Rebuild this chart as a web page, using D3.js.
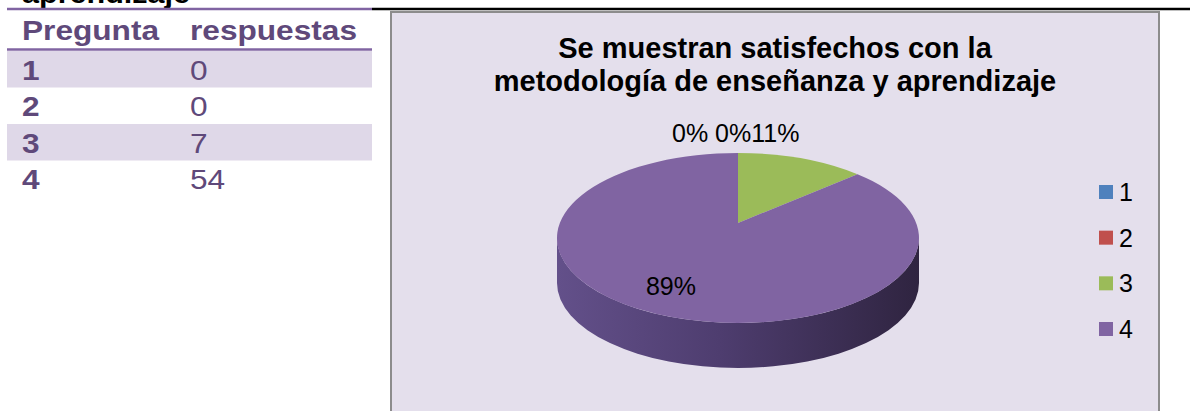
<!DOCTYPE html>
<meta charset="utf-8">
<style>
body { margin: 0; background: #fff; }
text { font-family: "Liberation Sans", Arial, sans-serif; }
</style>
<svg width="1190" height="411"></svg>
<script src="https://cdn.jsdelivr.net/npm/d3@7"></script>
<script>

// data
var categories = ["1", "2", "3", "4"];
var respuestas = [0, 0, 7, 54];
var colors = ["#4F81BD", "#C0504D", "#9BBB59", "#8064A2"];
var headers = ["Pregunta", "respuestas"];
var titleLines = ["Se muestran satisfechos con la", "metodología de enseñanza y aprendizaje"];
var cutHeading = "aprendizaje";

var svg = d3.select("svg");

// ---- table on the left ----
var sx = 1.13; // table text is a bit wide
var rowY = d3.scaleBand().domain(categories).range([51, 197]);

svg.append("text")
    .attr("x", 22).attr("y", 3)
    .attr("font-size", 28).attr("font-weight", "bold")
    .attr("textLength", 168).attr("lengthAdjust", "spacingAndGlyphs")
    .text(cutHeading);

svg.append("line").attr("x1", 7).attr("x2", 372).attr("y1", 9).attr("y2", 9)
    .attr("stroke", "#8064A2").attr("stroke-width", 2.5);
svg.append("line").attr("x1", 372).attr("x2", 1190).attr("y1", 9).attr("y2", 9)
    .attr("stroke", "#000").attr("stroke-width", 2.5);

svg.selectAll("rect.band")
    .data(categories.filter(function(d, i) { return i % 2 == 0; }))
  .enter().append("rect")
    .attr("class", "band")
    .attr("x", 7).attr("width", 365)
    .attr("y", function(d) { return rowY(d); })
    .attr("height", rowY.bandwidth())
    .attr("fill", "#DFD8E8");

svg.append("line").attr("x1", 7).attr("x2", 372).attr("y1", 49.5).attr("y2", 49.5)
    .attr("stroke", "#8064A2").attr("stroke-width", 2.5);

var tbl = svg.append("g").attr("transform", "scale(" + sx + ",1)")
    .attr("fill", "#5F497A").attr("font-size", 28);

tbl.selectAll("text.hdr").data(headers).enter().append("text")
    .attr("class", "hdr")
    .attr("x", function(d, i) { return (i == 0 ? 22 : 190) / sx; })
    .attr("y", 40)
    .attr("font-weight", "bold")
    .text(function(d) { return d; });

tbl.selectAll("text.cat").data(categories).enter().append("text")
    .attr("class", "cat")
    .attr("x", 22 / sx)
    .attr("y", function(d) { return rowY(d) + 29; })
    .attr("font-weight", "bold")
    .text(function(d) { return d; });

tbl.selectAll("text.val").data(respuestas).enter().append("text")
    .attr("class", "val")
    .attr("x", 190 / sx)
    .attr("y", function(d, i) { return rowY(categories[i]) + 29; })
    .text(function(d) { return d; });

// ---- chart area ----
svg.append("rect")
    .attr("x", 391).attr("y", 12).attr("width", 768).attr("height", 420)
    .attr("fill", "#E4DFEC").attr("stroke", "#8C8C8C").attr("stroke-width", 2);

svg.selectAll("text.title").data(titleLines).enter().append("text")
    .attr("class", "title")
    .attr("x", 775)
    .attr("y", function(d, i) { return 58 + i * 33; })
    .attr("text-anchor", "middle")
    .attr("font-size", 29).attr("font-weight", "bold")
    .text(function(d) { return d; });

// 3D pie
var cx = 738, cy = 238, rx = 181, ry = 85, depth = 45, apexUp = 15;
var total = d3.sum(respuestas);
var fmt = d3.format(".0%");

var arcs = d3.pie().sort(null).startAngle(0).endAngle(2 * Math.PI)(respuestas);

function proj(a, dy) {
  return [cx + rx * Math.sin(a), cy - ry * Math.cos(a) + (dy || 0)];
}

var defs = svg.append("defs");
var grad = defs.append("linearGradient").attr("id", "side")
    .attr("gradientUnits", "userSpaceOnUse")
    .attr("x1", cx - rx).attr("x2", cx + rx).attr("y1", 0).attr("y2", 0);
grad.append("stop").attr("offset", 0).attr("stop-color", "#63508A");
grad.append("stop").attr("offset", 0.45).attr("stop-color", "#4E3D6F");
grad.append("stop").attr("offset", 1).attr("stop-color", "#2F2440");

// side walls (front half only)
svg.append("g").selectAll("path")
    .data(arcs.filter(function(d) {
      return d.endAngle > d.startAngle &&
        Math.min(d.endAngle, 1.5 * Math.PI) > Math.max(d.startAngle, 0.5 * Math.PI);
    }))
  .enter().append("path")
    .attr("fill", function(d) { return d.index == 3 ? "url(#side)" : d3.color(colors[d.index]).darker(1); })
    .attr("d", function(d) {
      var s = Math.max(d.startAngle, 0.5 * Math.PI), e = Math.min(d.endAngle, 1.5 * Math.PI);
      var p0 = proj(s), p1 = proj(e), q1 = proj(e, depth), q0 = proj(s, depth);
      var big = (e - s) > Math.PI ? 1 : 0;
      return "M" + p0 + "A" + rx + "," + ry + " 0 " + big + " 1 " + p1 +
             "L" + q1 + "A" + rx + "," + ry + " 0 " + big + " 0 " + q0 + "Z";
    });

// top face
svg.append("g").selectAll("path")
    .data(arcs.filter(function(d) { return d.endAngle > d.startAngle; }))
  .enter().append("path")
    .attr("fill", function(d) { return colors[d.index]; })
    .attr("d", function(d) {
      var p0 = proj(d.startAngle), p1 = proj(d.endAngle);
      var big = (d.endAngle - d.startAngle) > Math.PI ? 1 : 0;
      return "M" + cx + "," + (cy - apexUp) + "L" + p0 +
             "A" + rx + "," + ry + " 0 " + big + " 1 " + p1 + "Z";
    });

// labels: small slices sit in a row above the pie, the big one inside
var small = arcs.filter(function(d) { return d.value / total < 0.3; });
var big = arcs.filter(function(d) { return d.value / total >= 0.3; });

var row = svg.append("text").attr("x", 672).attr("y", 142).attr("font-size", 25);
row.selectAll("tspan").data(small).enter().append("tspan")
    .text(function(d, i) { return fmt(d.value / total) + (i == 0 ? " " : ""); });

svg.selectAll("text.biglbl").data(big).enter().append("text")
    .attr("class", "biglbl")
    .attr("text-anchor", "middle").attr("font-size", 25)
    .attr("x", function(d) { var m = (d.startAngle + d.endAngle) / 2; return cx + rx * Math.sin(m) * 1.05; })
    .attr("y", function(d) { var m = (d.startAngle + d.endAngle) / 2; return cy - ry * Math.cos(m) * 0.6 + 9; })
    .text(function(d) { return fmt(d.value / total); });

// legend
var legY = d3.scalePoint().domain(categories).range([185, 322]);
var leg = svg.append("g").selectAll("g").data(categories).enter().append("g")
    .attr("transform", function(d) { return "translate(1099," + legY(d) + ")"; });
leg.append("rect").attr("width", 14).attr("height", 14)
    .attr("fill", function(d, i) { return colors[i]; });
leg.append("text").attr("x", 20).attr("y", 16).attr("font-size", 25)
    .text(function(d) { return d; });

</script>
